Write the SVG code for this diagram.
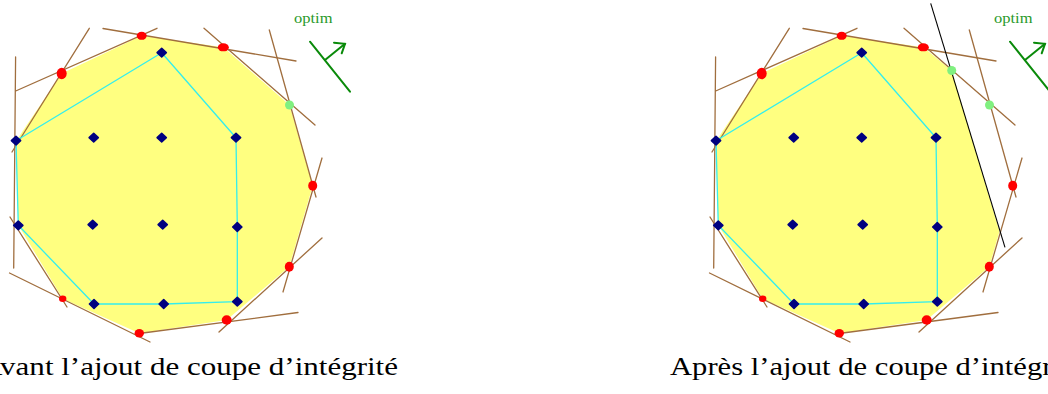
<svg xmlns="http://www.w3.org/2000/svg" xmlns:xlink="http://www.w3.org/1999/xlink" width="1048" height="394" viewBox="0 0 1048 394">
<style>
.area{fill:#ffff80;stroke:none}
.cons{stroke:#a06e3e;stroke-width:1.3;fill:none;stroke-linecap:round}
.hull{stroke:#33eeee;stroke-width:1.3;fill:none;stroke-linejoin:round}
.cut{stroke:#000;stroke-width:1.1}
.red{fill:#ff0000}
.green{fill:#80f080}
.blue{fill:#000080;stroke:#000080;stroke-width:1.6;stroke-linejoin:round}
.obj{stroke:#0a8a0a;stroke-width:2;fill:none;stroke-linecap:round}
.optim{font-family:"Liberation Serif","DejaVu Serif",serif;font-size:15px;fill:#2a9a2a}
.cap{font-family:"Liberation Serif","DejaVu Serif",serif;font-size:25px;fill:#000}
</style>
<defs>
<path id="bd" class="blue" d="M0,-4.3 L4.6,0 L0,4.3 L-4.6,0 Z"/>
<g id="lines">
<line class="cons" x1="15.6" y1="57" x2="13.7" y2="268"/>
<line class="cons" x1="15.7" y1="91" x2="157" y2="28.3"/>
<line class="cons" x1="89.3" y1="28.3" x2="12" y2="152"/>
<line class="cons" x1="103" y1="28.5" x2="296" y2="61"/>
<line class="cons" x1="204" y1="28.3" x2="315" y2="125"/>
<line class="cons" x1="269.3" y1="30" x2="316" y2="197"/>
<line class="cons" x1="322" y1="158" x2="283" y2="292"/>
<line class="cons" x1="322" y1="238" x2="219" y2="332"/>
<line class="cons" x1="298" y1="312.5" x2="139" y2="333.5"/>
<line class="cons" x1="9.5" y1="273" x2="150" y2="342"/>
<line class="cons" x1="10" y1="217" x2="67" y2="307"/>
<polyline class="hull" points="161.7,52.7 16,140.7 18.3,225.3 94,304 163.7,304 237.3,301.7 237.3,227 236,137.7 161.7,52.7"/>
</g>
<g id="dots">
<ellipse class="red" cx="141.7" cy="35.8" rx="5" ry="4"/>
<ellipse class="red" cx="61.7" cy="73.5" rx="5" ry="5.8"/>
<ellipse class="red" cx="223.3" cy="47.3" rx="5.5" ry="4"/>
<ellipse class="red" cx="312.7" cy="185.7" rx="4.5" ry="5"/>
<ellipse class="red" cx="289.3" cy="266.7" rx="4.5" ry="5"/>
<ellipse class="red" cx="226.7" cy="320" rx="5" ry="4.7"/>
<ellipse class="red" cx="139.3" cy="333.3" rx="4.7" ry="4.2"/>
<ellipse class="red" cx="62.7" cy="298.7" rx="3.7" ry="3.3"/>
<circle class="green" cx="289.5" cy="105" r="4.5"/>
<use href="#bd" x="161.7" y="52.7"/>
<use href="#bd" x="16" y="140.7"/>
<use href="#bd" x="93.7" y="137.7"/>
<use href="#bd" x="161.7" y="137.7"/>
<use href="#bd" x="236" y="137.7"/>
<use href="#bd" x="18.3" y="225.3"/>
<use href="#bd" x="92.7" y="224.7"/>
<use href="#bd" x="162.7" y="224.7"/>
<use href="#bd" x="237.3" y="227"/>
<use href="#bd" x="94" y="304"/>
<use href="#bd" x="163.7" y="304"/>
<use href="#bd" x="237.3" y="301.7"/>
</g>
<g id="objective">
<text class="optim" x="294" y="22.5" textLength="38.5" lengthAdjust="spacingAndGlyphs">optim</text>
<line class="obj" x1="310" y1="41.7" x2="350" y2="91.7"/>
<line class="obj" x1="325" y1="60" x2="345" y2="43.8"/>
<polyline class="obj" points="334,42.7 345,43.8 341.7,53.3"/>
</g>
</defs>

<g id="before">
<polygon id="before-region" class="area" points="16,141 61.7,73.5 141.7,35.8 223.3,47.3 289.5,105 312.7,185.7 289.3,266.7 226.7,320 139.3,333.3 62.7,298.7 18.3,225.3"/>
<use href="#lines"/>
<use href="#dots"/>
<use href="#objective"/>
<text id="before-caption" class="cap" x="-20" y="375" textLength="418" lengthAdjust="spacingAndGlyphs">Avant l’ajout de coupe d’intégrité</text>
</g>

<g id="after" transform="translate(700,0)">
<polygon id="after-region" class="area" points="16,141 61.7,73.5 141.7,35.8 223.3,47.3 251.7,70.5 299.5,231.5 289.3,266.7 226.7,320 139.3,333.3 62.7,298.7 18.3,225.3"/>
<use href="#lines"/>
<line id="cut" class="cut" x1="230.7" y1="3.3" x2="305" y2="247.3"/>
<use href="#dots"/>
<circle id="new-vertex" class="green" cx="251.7" cy="70.5" r="4.5"/>
<use href="#objective"/>
<text id="after-caption" class="cap" x="-30" y="375" textLength="413" lengthAdjust="spacingAndGlyphs">Après l’ajout de coupe d’intégrité</text>
</g>
</svg>
